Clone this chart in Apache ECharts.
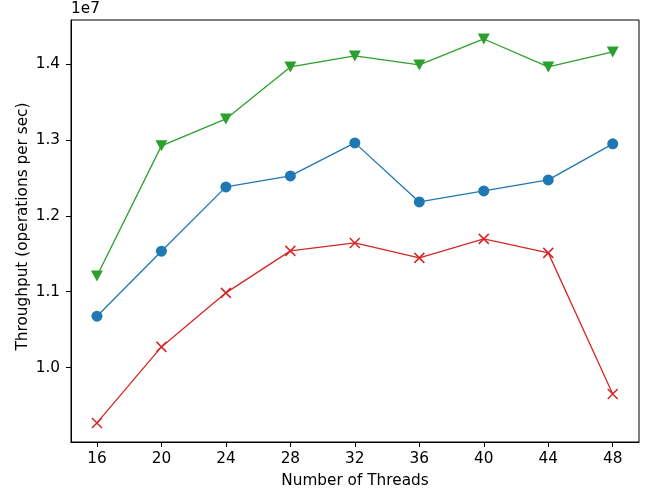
<!DOCTYPE html>
<html>
<head>
<meta charset="utf-8">
<script src="https://cdn.jsdelivr.net/npm/echarts@6/dist/echarts.min.js"></script>
<style>html,body{margin:0;padding:0;background:#fff}#c{width:646px;height:494px}</style>
</head>
<body>
<div id="c"></div>
<script>
const threads = [16, 20, 24, 28, 32, 36, 40, 44, 48];
const greenVals = [11208000, 12922000, 13277000, 13962000, 14107000, 13988000, 14330000, 13962000, 14160000];
const blueVals = [10677000, 11534000, 12381000, 12526000, 12961000, 12183000, 12328000, 12473000, 12948000];
const redVals = [9271000, 10273000, 10985000, 11538000, 11643000, 11446000, 11696000, 11512000, 9653000];
const yTicks = [10000000, 11000000, 12000000, 13000000, 14000000];
const xTicks = [16, 20, 24, 28, 32, 36, 40, 44, 48];

const font = 'DejaVu Sans';
const fs = 15.3;
function pairs(vals) { return threads.map((t, i) => [t, vals[i]]); }
const chart = echarts.init(document.getElementById('c'), null, {renderer: 'canvas'});
chart.setOption({
  animation: false,
  backgroundColor: '#fff',
  grid: {left: 71, top: 20, right: 7, bottom: 52, show: true, borderColor: '#000', borderWidth: 1, backgroundColor: 'transparent'},
  xAxis: {
    type: 'value', min: 14.39, max: 49.63,
    name: 'Number of Threads', nameLocation: 'middle', nameGap: 32, nameMoveOverlap: false,
    nameTextStyle: {fontFamily: font, fontSize: fs, color: '#000'},
    axisLine: {show: true, lineStyle: {color: '#000', width: 1}},
    axisTick: {show: true, inside: false, length: 5, lineStyle: {color: '#000'}, customValues: xTicks},
    axisLabel: {fontFamily: font, fontSize: fs, color: '#000', margin: 10, customValues: xTicks},
    splitLine: {show: false}
  },
  yAxis: {
    type: 'value', min: 9020000, max: 14580000,
    name: 'Throughput (operations per sec)', nameLocation: 'middle', nameGap: 40, nameMoveOverlap: false,
    nameTextStyle: {fontFamily: font, fontSize: fs, color: '#000', padding: [0, 0, 0, 9]},
    axisLine: {show: true, lineStyle: {color: '#000', width: 1}},
    axisTick: {show: true, inside: false, length: 5, lineStyle: {color: '#000'}, customValues: yTicks},
    axisLabel: {fontFamily: font, fontSize: fs, color: '#000', margin: 11, customValues: yTicks,
      formatter: v => (v / 1e7).toFixed(1)},
    splitLine: {show: false}
  },
  graphic: [{type: 'text', left: 71, top: 2, style: {text: '1e7', font: fs + 'px "DejaVu Sans"', fill: '#000'}}],
  series: [
    {type: 'line', data: pairs(blueVals), symbol: 'circle', symbolSize: 11,
     itemStyle: {color: '#1f77b4'}, lineStyle: {color: '#1f77b4', width: 1.3}},
    {type: 'line', data: pairs(redVals), symbol: 'path://M-1,-1L1,1M1,-1L-1,1', symbolSize: 10,
     itemStyle: {color: 'none', borderColor: '#d62728', borderWidth: 1.5}, lineStyle: {color: '#d62728', width: 1.3}},
    {type: 'line', data: pairs(greenVals), symbol: 'triangle', symbolRotate: 180, symbolSize: [12, 11],
     itemStyle: {color: '#2ca02c'}, lineStyle: {color: '#2ca02c', width: 1.3}}
  ]
});
</script>
</body>
</html>
